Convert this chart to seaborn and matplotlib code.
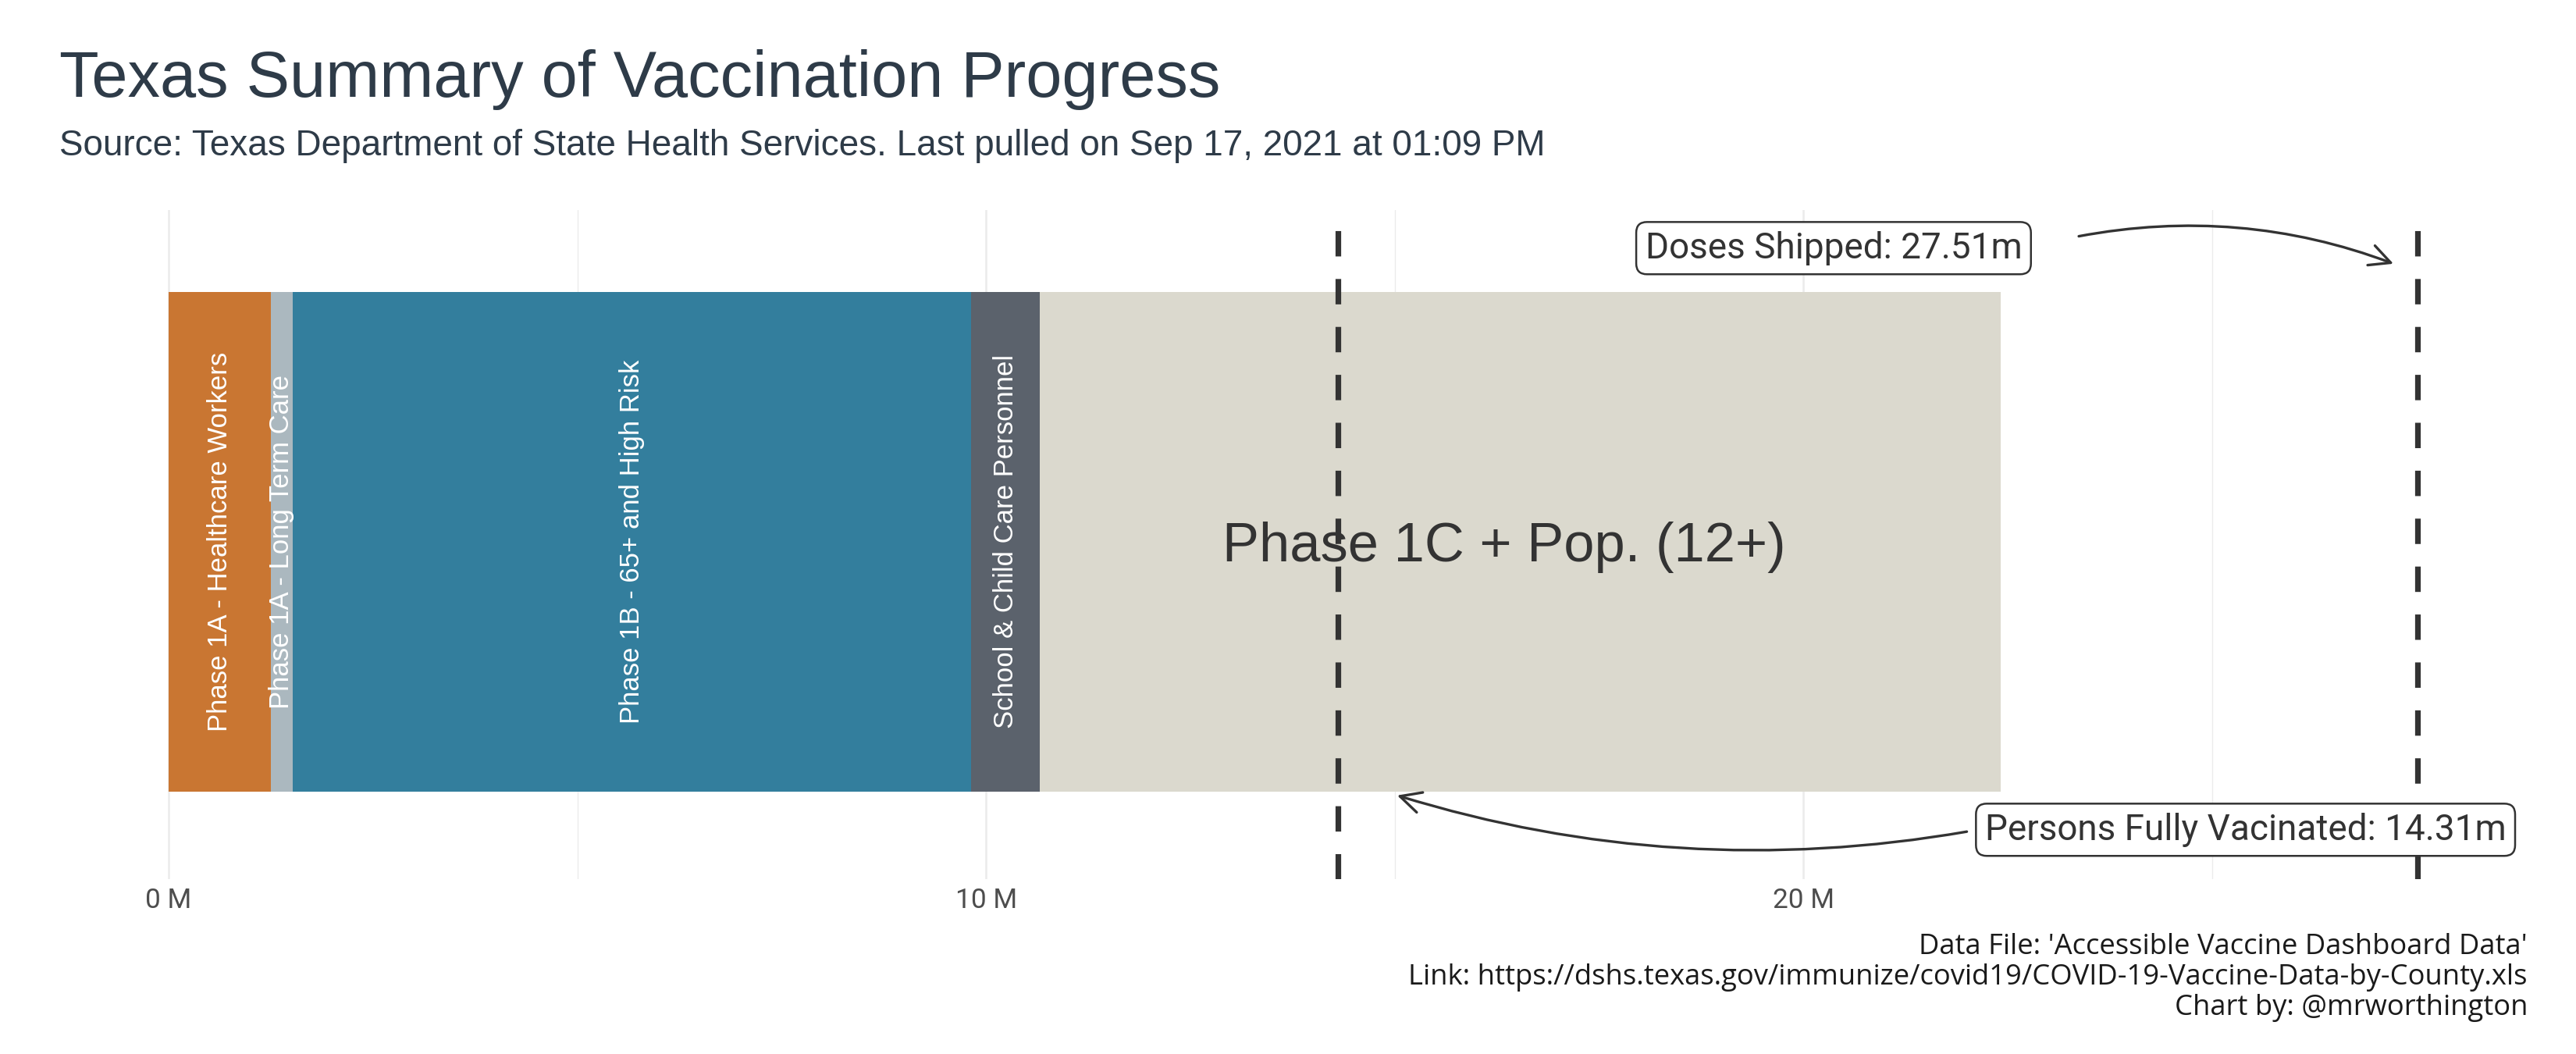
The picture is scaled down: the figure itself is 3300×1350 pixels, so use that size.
import matplotlib
matplotlib.use("Agg")
import matplotlib.pyplot as plt
import seaborn as sns
import pandas as pd
import numpy as np

# ---------------- data ----------------
groups = ["Phase 1A - Healthcare Workers", "Phase 1A - Long Term Care",
          "Phase 1B - 65+ and High Risk", "School & Child Care Personnel",
          "Phase 1C + Pop. (12+)"]
values_m = [1.25, 0.27, 8.30, 0.84, 11.75]          # millions of people
colors = ["#C97632", "#ABB8BF", "#337E9D", "#5B626C", "#DBD9CE"]
fully_vaccinated_m = 14.31
doses_shipped_m = 27.51
x_ticks = [0, 10, 20]
x_tick_labels = ["0 M", "10 M", "20 M"]
minor_ticks = [5, 15, 25]

title = "Texas Summary of Vaccination Progress"
subtitle = "Source: Texas Department of State Health Services. Last pulled on Sep 17, 2021 at 01:09 PM"
caption_lines = ["Data File: 'Accessible Vaccine Dashboard Data'",
                 "Link: https://dshs.texas.gov/immunize/covid19/COVID-19-Vaccine-Data-by-County.xls",
                 "Chart by: @mrworthington"]

# ---------------- style ----------------
sns.set_theme(style="white")
plt.rcParams['font.family'] = ['Liberation Sans', 'DejaVu Sans']
SEC = ['Roboto', 'DejaVu Sans']
CAP = ['Open Sans', 'DejaVu Sans']

W, H = 3300, 1350
fig = plt.figure(figsize=(16.5, 6.75), dpi=200)
ax_left, ax_right, ax_top, ax_bot = 72, 3240, 269, 1126
ax = fig.add_axes([ax_left / W, 1 - ax_bot / H, (ax_right - ax_left) / W, (ax_bot - ax_top) / H])

cum = np.cumsum(values_m)
df = pd.DataFrame({"group": groups, "value": values_m, "cum": cum,
                   "start": cum - np.array(values_m), "row": "Texas"})

sns.barplot(data=df, x="cum", y="row", hue="group", hue_order=groups[::-1],
            palette=dict(zip(groups, colors)), dodge=False, saturation=1,
            width=0.8, legend=False, ax=ax, orient="h", linewidth=0, errorbar=None)

ax.set_xlim(-1.375, 28.88)
ax.set_ylim(0.54, -0.531)
ax.set_xticks(x_ticks)
ax.set_xticklabels(x_tick_labels, fontfamily=SEC, fontsize=12.7, color="#4D4D4D")
ax.set_xticks(minor_ticks, minor=True)
ax.set_yticks([])
ax.set_xlabel("")
ax.set_ylabel("")
ax.tick_params(axis="x", which="both", length=0, pad=4)
for s in ax.spines.values():
    s.set_visible(False)
ax.grid(axis="x", which="major", color="#EBEBEB", lw=0.9)
ax.grid(axis="x", which="minor", color="#EBEBEB", lw=0.5)
ax.grid(axis="y", visible=False)
ax.set_axisbelow(True)

# segment labels
for i, row in df.iterrows():
    cx = row["start"] + row["value"] / 2
    if i < len(groups) - 1:
        ax.text(cx, 0, row["group"], rotation=90, ha="center", va="center",
                color="white", fontsize=12.5, zorder=5)
    else:
        ax.text(cx - 0.2, 0, row["group"], ha="center", va="center_baseline",
                color="#333333", fontsize=25.4, zorder=5)

# reference lines
for v in (fully_vaccinated_m, doses_shipped_m):
    ax.axvline(v, color="#333333", lw=2.6, ls=(0, (4.5, 4)), zorder=4)

# annotations
box = dict(boxstyle="round,pad=0.25,rounding_size=0.3", fc="white", ec="#333333", lw=0.9)
ax.text(doses_shipped_m - 7.14, -0.470, f"Doses Shipped: {doses_shipped_m:.2f}m",
        ha="center", va="center", fontsize=16.5, color="#333333", fontfamily=SEC,
        bbox=box, zorder=6)
ax.annotate("", xy=(doses_shipped_m - 0.29, -0.445), xytext=(23.37, -0.489),
            arrowprops=dict(arrowstyle="->,head_length=0.8,head_width=0.4",
                            connectionstyle="arc3,rad=-0.14", color="#333333",
                            lw=1.2, shrinkA=0, shrinkB=0), zorder=6)

ax.text(25.41, 0.461, f"Persons Fully Vacinated: {fully_vaccinated_m:.2f}m",
        ha="center", va="center", fontsize=16.5, color="#333333", fontfamily=SEC,
        bbox=box, zorder=6)
ax.annotate("", xy=(fully_vaccinated_m + 0.72, 0.406), xytext=(22.0, 0.464),
            arrowprops=dict(arrowstyle="->,head_length=0.8,head_width=0.4",
                            connectionstyle="arc3,rad=-0.12", color="#333333",
                            lw=1.2, shrinkA=0, shrinkB=0), zorder=6)

# titles
fig.text(76 / W, 1 - 124 / H, title, fontsize=29.9, color="#2E3B48", ha="left", va="baseline")
fig.text(76 / W, 1 - 199 / H, subtitle, fontsize=16.5, color="#2E3B48", ha="left", va="baseline")
for k, line in enumerate(caption_lines):
    fig.text(3238 / W, 1 - (1222 + 39 * k) / H, line, fontsize=13.1, color="#1A1A1A",
             ha="right", va="baseline", fontfamily=CAP)

fig.savefig("out.png", dpi=200, facecolor="white")
